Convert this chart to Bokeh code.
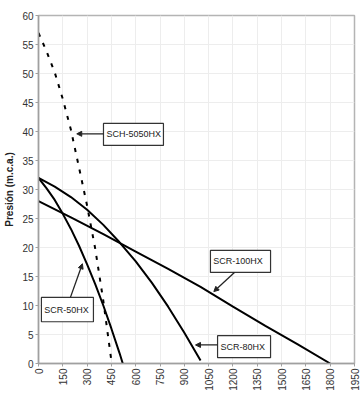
import math
from bokeh.plotting import figure
from bokeh.models import Label, Arrow, NormalHead, FixedTicker, Range1d
from bokeh.embed import file_html
from bokeh.resources import INLINE

# ---- data ----
x_ticks = list(range(0, 1951, 150))
y_ticks = list(range(0, 61, 5))

sch5050_q = [0, 50, 100, 150, 200, 250, 300, 350, 400, 452]
sch5050_h = [57.0, 53.8, 50.2, 45.6, 40.3, 33.8, 27.2, 19.8, 10.8, 0.0]

scr50_q = [0, 50, 100, 150, 200, 250, 300, 350, 400, 450, 500, 520]
scr50_h = [32.0, 30.2, 28.2, 25.8, 23.2, 20.3, 17.1, 13.7, 10.0, 6.0, 1.8, 0.0]

scr80_q = [0, 100, 200, 300, 400, 500, 600, 700, 800, 900, 1000]
scr80_h = [32.0, 30.5, 28.7, 26.5, 23.9, 20.9, 17.6, 13.9, 9.8, 5.3, 0.5]

scr100_q = [0, 200, 400, 600, 800, 1000, 1200, 1400, 1600, 1800]
scr100_h = [28.0, 25.2, 22.3, 19.3, 16.3, 13.2, 9.8, 6.5, 3.3, 0.0]

labels = ["SCH-5050HX", "SCR-50HX", "SCR-100HX", "SCR-80HX"]

FONT = "Liberation Sans"

p = figure(width=360, height=395, output_backend="svg", toolbar_location=None,
           x_range=Range1d(0, 1950), y_range=Range1d(0, 60),
           min_border_left=38, min_border_right=6, min_border_top=15, min_border_bottom=32)
p.background_fill_color = "white"
p.border_fill_color = "white"
p.outline_line_color = "#b4b4b4"
p.outline_line_width = 1.5

p.xaxis.ticker = FixedTicker(ticks=x_ticks)
p.yaxis.ticker = FixedTicker(ticks=y_ticks)
p.xgrid.ticker = FixedTicker(ticks=x_ticks)
p.ygrid.ticker = FixedTicker(ticks=y_ticks)
p.xgrid.grid_line_color = "#ededed"
p.ygrid.grid_line_color = "#ededed"

for ax in (p.xaxis[0], p.yaxis[0]):
    ax.axis_line_color = "#a0a0a0"
    ax.axis_line_width = 1.5
    ax.major_tick_line_color = "#a0a0a0"
    ax.major_tick_out = 3
    ax.major_tick_in = 0
    ax.minor_tick_line_color = None
    ax.major_label_text_font = FONT
    ax.major_label_text_font_size = "10px"
    ax.major_label_text_color = "#333333"
    ax.major_label_standoff = 2

p.xaxis.major_label_orientation = math.pi / 2
p.yaxis.axis_label = "Presión (m.c.a.)"
p.yaxis.axis_label_text_font = FONT
p.yaxis.axis_label_text_font_style = "bold"
p.yaxis.axis_label_text_font_size = "10px"
p.yaxis.axis_label_text_color = "#222222"
p.yaxis.axis_label_standoff = 4

p.line(sch5050_q, sch5050_h, line_color="black", line_width=2, line_dash="4 7")
p.line(scr50_q, scr50_h, line_color="black", line_width=2)
p.line(scr80_q, scr80_h, line_color="black", line_width=2)
p.line(scr100_q, scr100_h, line_color="black", line_width=2)

# annotation boxes (data coords): left, right, bottom, top ; arrow from -> to
boxes = [
    (401, 771, 37.6, 41.4, (401, 39.6), (236, 39.6)),
    (18, 339, 7.2, 11.4, (197, 11.4), (271, 17.2)),
    (1061, 1432, 15.7, 19.5, (1209, 15.7), (1082, 12.4)),
    (1105, 1432, 1.0, 4.8, (1105, 3.2), (969, 3.2)),
]

for (l, r, b, t, a0, a1), txt in zip(boxes, labels):
    p.quad(left=[l], right=[r], bottom=[b], top=[t], fill_color="white",
           line_color="#333333", line_width=1.2)
    p.add_layout(Label(x=l + 18, y=(b + t) / 2, text=txt, text_font=FONT,
                       text_font_size="9px", text_color="#222222",
                       text_align="left", text_baseline="middle"))
    p.add_layout(Arrow(x_start=a0[0], y_start=a0[1], x_end=a1[0], y_end=a1[1],
                       line_color="#222222", line_width=1.3,
                       end=NormalHead(size=5, fill_color="#222222", line_color="#222222")))

open("out.html", "w").write(file_html(p, INLINE))
